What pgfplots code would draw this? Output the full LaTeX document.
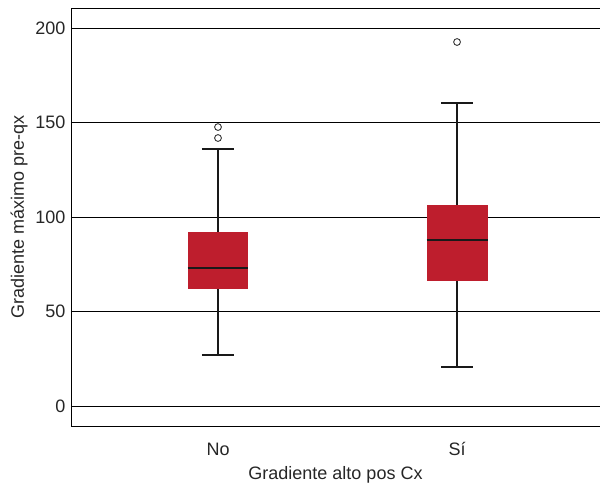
\documentclass[border=0pt]{standalone}
\usepackage{pgfplots}
\pgfplotsset{compat=1.18}
\usepgfplotslibrary{statistics}
\usepackage{fontspec}
\setmainfont{Liberation Sans}
\definecolor{boxred}{HTML}{BE1E2D}
\begin{document}
\begin{tikzpicture}
\path[use as bounding box] (0pt,0pt) rectangle (600pt,487pt);
\begin{axis}[
  at={(71pt,61pt)}, anchor=south west,
  scale only axis, width=529pt, height=418pt,
  xmin=38.5, xmax=259.8,
  ymin=-10.6, ymax=210.6,
  xtick={100,200}, xticklabels={No,Sí},
  ytick={0,50,100,150,200},
  major tick length=0pt,
  ymajorgrids,
  grid style={black, line width=0.8pt},
  axis line style={black, line width=0.9pt},
  tick label style={font=\fontsize{18}{21}\selectfont, text=black!85},
  yticklabel style={xshift=-2pt},
  xticklabel style={anchor=base, yshift=-30pt},
  /pgf/number format/assume math mode=true,
  xlabel={Gradiente alto pos Cx},
  ylabel={Gradiente máximo pre-qx},
  xlabel style={at={(axis description cs:0.5,-0.117)}, anchor=center, font=\fontsize{18}{21}\selectfont, text=black!85},
  ylabel style={at={(axis description cs:-0.0983,0.5)}, anchor=center, font=\fontsize{18}{21}\selectfont, text=black!85},
  boxplot/draw direction=y,
  boxplot/box extend=25.5,
  boxplot/whisker extend=13.4,
  boxplot/every box/.style={draw=none, fill=boxred},
  boxplot/every whisker/.style={draw=black!90, line width=1.7pt},
  boxplot/every median/.style={draw=black!90, line width=1.8pt},
]
\addplot[boxplot prepared={draw position=100, lower whisker=27, lower quartile=61.9, median=73, upper quartile=92.1, upper whisker=136}]
  coordinates {};
\addplot[boxplot prepared={draw position=200, lower whisker=20.6, lower quartile=66.1, median=87.8, upper quartile=106.3, upper whisker=160.3}]
  coordinates {};
\addplot[only marks, mark=o, mark size=3.4pt, mark options={draw=black!80, line width=0.9pt, fill=none}]
  coordinates {(100,141.8) (100,147.6) (200,192.6)};
\end{axis}
\end{tikzpicture}
\end{document}
